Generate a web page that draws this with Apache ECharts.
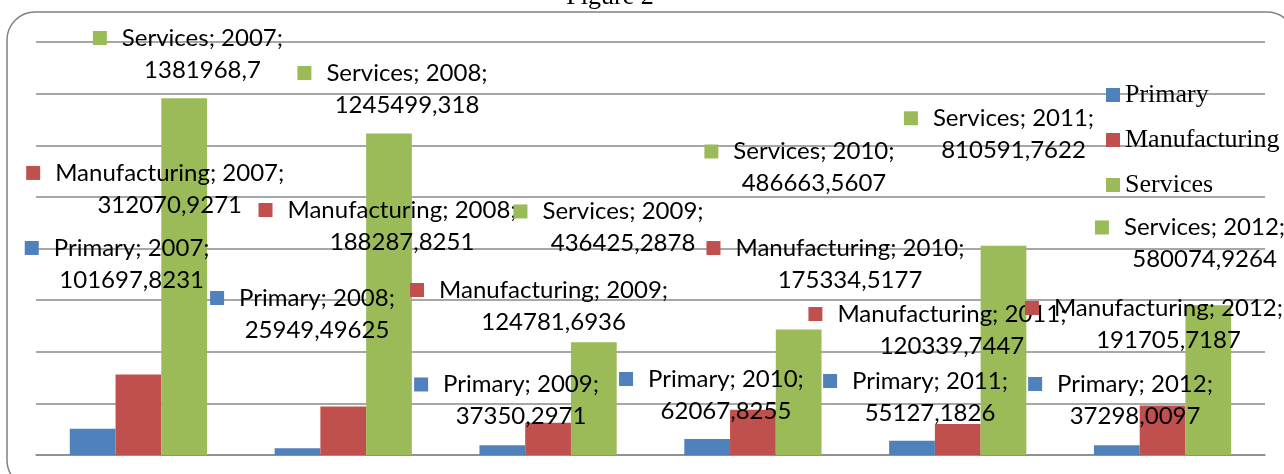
<!DOCTYPE html>
<html>
<head>
<meta charset="utf-8">
<title>Figure 2</title>
<script src="https://cdn.jsdelivr.net/npm/echarts@6/dist/echarts.min.js"></script>
<style>
  html, body { margin: 0; padding: 0; background: #fff; }
  #chart { width: 1284px; height: 474px; }
</style>
</head>
<body>
<div id="chart"></div>
<script>
const years = ['2007', '2008', '2009', '2010', '2011', '2012']
const seriesNames = ['Primary', 'Manufacturing', 'Services']
const primary = [101697.8231, 25949.49625, 37350.2971, 62067.8255, 55127.1826, 37298.0097]
const manufacturing = [312070.9271, 188287.8251, 124781.6936, 175334.5177, 120339.7447, 191705.7187]
const services = [1381968.7, 1245499.318, 436425.2878, 486663.5607, 810591.7622, 580074.9264]
const colors = ['#4F81BD', '#C0504D', '#9BBB59']

// labels were dragged around in the original, shift from bar top (px)
const labelShift = [
  [[24.5, -132.8], [5, -102.3], [4.2, -12.9], [4.3, -12], [3.5, -11.8], [3.7, -13.4]],
  [[16.8, -153.5], [44.3, -148.4], [-9, -84.8], [82.6, -113.7], [-20.3, -61.9], [-8.6, -49.5]],
  [[3.8, -12.3], [3.5, -12.5], [14.7, -82.9], [0.8, -129.9], [-4.5, -79.5], [-18.3, -29.8]]
]

const labelFont = 'Lato'
const gridColor = '#8a8a8a'

const makeSeries = (idx, values) => ({
  name: seriesNames[idx],
  type: 'bar',
  barGap: '0%',
  barCategoryGap: '33%',
  itemStyle: { color: colors[idx] },
  data: values.map((v, i) => ({
    value: v,
    label: { offset: labelShift[idx][i] }
  })),
  label: {
    show: true,
    position: 'top',
    distance: 0,
    align: 'center',
    formatter: (p) => {
      const txt = String(p.value).replace('.', ',')
      return '{m|}{g|}{t|' + seriesNames[idx] + '; ' + p.name + ';}\n{sp|}{t|' + txt + '}'
    },
    rich: {
      m: { width: 14, height: 14, backgroundColor: colors[idx], lineHeight: 32 },
      g: { width: 15, lineHeight: 32 },
      sp: { width: 29, lineHeight: 32 },
      t: { fontFamily: labelFont, fontSize: 24, lineHeight: 32, color: '#000' }
    }
  }
})

const chart = echarts.init(document.getElementById('chart'))
chart.setOption({
  animation: false,
  grid: { left: 36, right: 19, top: 42, bottom: 19 },
  xAxis: {
    type: 'category',
    data: years,
    axisLine: { show: true, lineStyle: { color: gridColor, width: 1.5 } },
    axisTick: { show: false },
    axisLabel: { show: false }
  },
  yAxis: {
    type: 'value',
    min: 0,
    max: 1600000,
    interval: 200000,
    axisLabel: { show: false },
    axisLine: { show: false },
    axisTick: { show: false },
    splitLine: { lineStyle: { color: gridColor, width: 1.5 } }
  },
  legend: {
    data: seriesNames,
    orient: 'vertical',
    left: 1106,
    top: 82,
    padding: 0,
    itemWidth: 14,
    itemHeight: 14,
    itemGap: 19,
    icon: 'rect',
    textStyle: { fontFamily: 'Liberation Serif', fontSize: 26, color: '#000' }
  },
  graphic: [
    {
      type: 'rect',
      silent: true,
      z: -10,
      shape: { x: 7, y: 12, width: 1288, height: 476, r: 28 },
      style: { fill: 'none', stroke: '#808080', lineWidth: 1.5 }
    },
    {
      type: 'text',
      silent: true,
      x: 610,
      y: -3,
      style: {
        text: 'Figure 2',
        font: '26px "Liberation Serif"',
        fill: '#000',
        align: 'center',
        verticalAlign: 'middle'
      }
    }
  ],
  series: [
    makeSeries(0, primary),
    makeSeries(1, manufacturing),
    makeSeries(2, services)
  ]
})
</script>
</body>
</html>
